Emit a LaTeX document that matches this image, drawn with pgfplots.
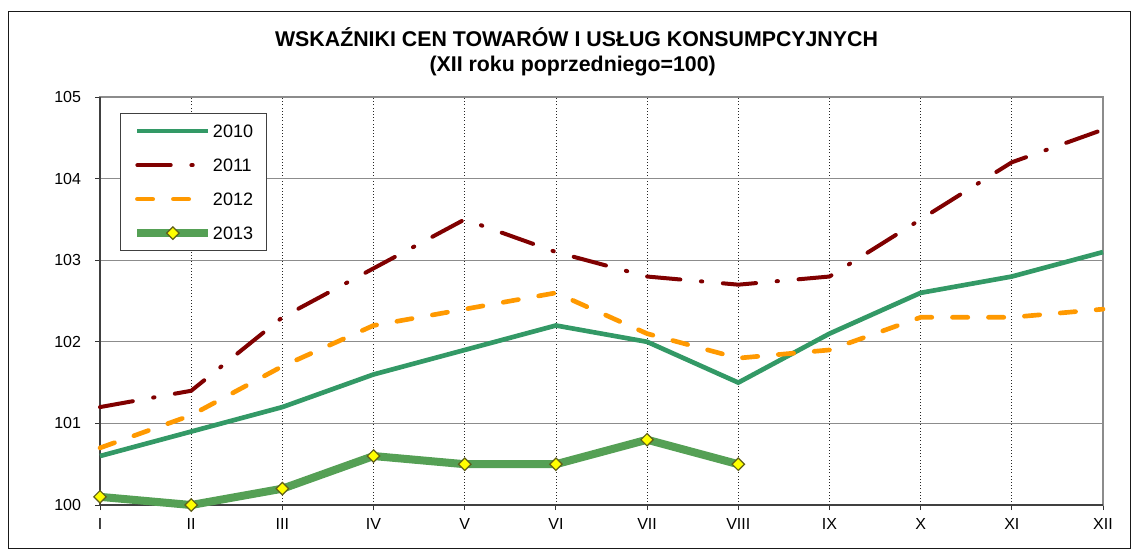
\documentclass[border=0pt]{standalone}
\usepackage{fontspec}
\setmainfont{Liberation Sans}
\usepackage{pgfplots}
\pgfplotsset{compat=1.18}
\definecolor{c2010}{RGB}{51,153,102}
\definecolor{c2011}{RGB}{128,0,0}
\definecolor{c2012}{RGB}{255,153,0}
\definecolor{c2013}{RGB}{85,160,85}
\definecolor{mk}{RGB}{255,255,0}
\definecolor{mkd}{RGB}{95,95,25}
\begin{document}
\begin{tikzpicture}
\path[use as bounding box] (0,0) rectangle (848.25pt,-412.5pt);
\draw[line width=0.75pt, black!90] (6pt,-411pt) rectangle (847.5pt,-8.25pt);
\node[font=\fontsize{16}{19}\selectfont\bfseries, anchor=base, inner sep=0pt] at (432.4pt,-35pt) {WSKAŹNIKI CEN TOWARÓW I USŁUG KONSUMPCYJNYCH};
\node[font=\fontsize{16}{19}\selectfont\bfseries, anchor=base, inner sep=0pt] at (429.5pt,-53.8pt) {(XII roku poprzedniego=100)};
\begin{axis}[
  at={(75pt,-378.75pt)}, anchor=south west, scale only axis,
  width=752.25pt, height=306pt,
  xmin=0, xmax=11, ymin=100, ymax=105,
  xtick={0,...,11},
  xticklabels={I,II,III,IV,V,VI,VII,VIII,IX,X,XI,XII},
  ytick={100,...,105},
  xmajorgrids, ymajorgrids,
  x grid style={black!85, dotted, line width=0.6pt},
  y grid style={black!45, line width=0.75pt},
  axis line style={black!45, line width=1.5pt},
  tick align=outside, xtick pos=left, ytick pos=left,
  major tick length=3.75pt,
  tick style={black!80, line width=0.75pt},
  ticklabel style={font=\fontsize{12}{14}\selectfont},
  /pgf/number format/assume math mode=true,
  yticklabel style={xshift=-7pt},
  xticklabel style={yshift=-3pt},
  clip=false,
  legend cell align=left,
  legend style={at={(0.0195,0.960)}, anchor=north west,
    draw=black!75, line width=0.75pt,
    font=\fontsize{13.5}{16}\selectfont,
    inner xsep=10pt, inner ysep=8pt,
    nodes={inner xsep=0pt, inner ysep=0pt, text height=10pt, text depth=0pt},
    row sep=15.5pt, column sep=0.5pt},
  legend image code/.code={\draw[mark repeat=2,mark phase=2,#1] plot coordinates {(0pt,0pt) (26.6pt,0pt) (53.2pt,0pt)};},
]
\draw[black!75, line width=1.5pt] (rel axis cs:0,1) -- (rel axis cs:0,0) -- (rel axis cs:1,0);
\addplot[c2010, line width=3.5pt, no marks] coordinates {
(0,100.6) (1,100.9) (2,101.2) (3,101.6) (4,101.9) (5,102.2) (6,102.0) (7,101.5) (8,102.1) (9,102.6) (10,102.8) (11,103.1)};
\addlegendentry{2010}
\addplot[c2011, line width=3pt, no marks, line cap=round, dash pattern=on 25pt off 15.5pt on 1pt off 15.5pt] coordinates {
(0,101.2) (1,101.4) (2,102.3) (3,102.9) (4,103.5) (5,103.1) (6,102.8) (7,102.7) (8,102.8) (9,103.5) (10,104.2) (11,104.6)};
\addlegendentry{2011}
\addplot[c2012, line width=3.5pt, no marks, line cap=round, dash pattern=on 11.5pt off 15.5pt] coordinates {
(0,100.7) (1,101.1) (2,101.7) (3,102.2) (4,102.4) (5,102.6) (6,102.1) (7,101.8) (8,101.9) (9,102.3) (10,102.3) (11,102.4)};
\addlegendentry{2012}
\addplot[c2013, line width=6pt, mark=square*, mark size=3.3pt, mark options={rotate=45, fill=mk, draw=mkd, line width=0.9pt, solid}] coordinates {
(0,100.1) (1,100.0) (2,100.2) (3,100.6) (4,100.5) (5,100.5) (6,100.8) (7,100.5)};
\addlegendentry{2013}
\end{axis}
\end{tikzpicture}
\end{document}
